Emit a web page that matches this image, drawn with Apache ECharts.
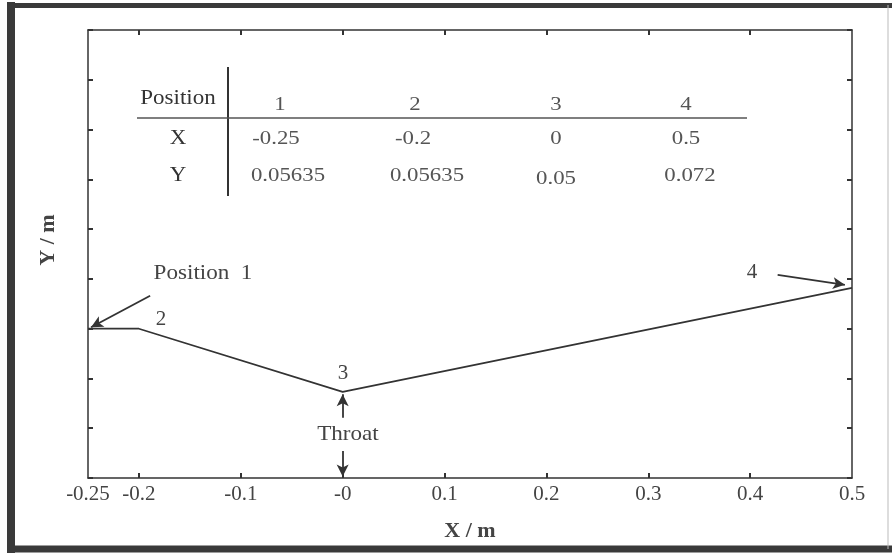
<!DOCTYPE html>
<html><head><meta charset="utf-8">
<script src="https://cdn.jsdelivr.net/npm/echarts@6/dist/echarts.min.js"></script>
<style>html,body{margin:0;padding:0;background:#fff;}#c{width:892px;height:554px;}</style>
</head><body><div id="c"></div>
<script>
// Profile points (x in m, y on an unlabeled 0..0.09 scale)
var profileX = [-0.25, -0.2, 0, 0.5];
var profileY = [0.0300, 0.0300, 0.0173, 0.0382];
// X axis tick labels
var xLabelValues = [-0.25, -0.2, -0.1, 0, 0.1, 0.2, 0.3, 0.4, 0.5];
var xLabelTexts  = ['-0.25', '-0.2', '-0.1', '-0', '0.1', '0.2', '0.3', '0.4', '0.5'];
var xTickValues  = [-0.2, -0.1, 0, 0.1, 0.2, 0.3, 0.4];
// Table content
var tableHeader = ['1', '2', '3', '4'];
var tableX = ['-0.25', '-0.2', '0', '0.5'];
var tableY = ['0.05635', '0.05635', '0.05', '0.072'];

var chart = echarts.init(document.getElementById('c'));
var serif = '"Liberation Serif","DejaVu Serif",serif';
var ink = '#333';

var data = profileX.map(function (x, i) { return [x, profileY[i]]; });

function fmtX(v) {
  for (var i = 0; i < xLabelValues.length; i++) {
    if (Math.abs(xLabelValues[i] - v) < 1e-9) return xLabelTexts[i];
  }
  return '';
}

var tickStyle = { show: true, inside: true, length: 5, lineStyle: { color: ink, width: 2 } };
var lineStyleAxis = { show: true, onZero: false, lineStyle: { color: ink, width: 1.5 } };

var option = {
  backgroundColor: '#fff',
  animation: false,
  grid: { left: 88, right: 40, top: 30, bottom: 76 },
  xAxis: [{
    type: 'value', min: -0.25, max: 0.5, position: 'bottom',
    axisLine: lineStyleAxis,
    axisTick: Object.assign({}, tickStyle, { customValues: xTickValues }),
    axisLabel: { customValues: xLabelValues, formatter: fmtX, color: '#444', fontFamily: serif, fontSize: 21, margin: 6 },
    splitLine: { show: false },
    name: 'X / m', nameLocation: 'middle', nameGap: 42,
    nameTextStyle: { color: '#444', fontFamily: serif, fontSize: 22, fontWeight: 'bold' }
  }, {
    type: 'value', min: -0.25, max: 0.5, position: 'top',
    axisLine: lineStyleAxis,
    axisTick: Object.assign({}, tickStyle, { customValues: xTickValues }),
    axisLabel: { show: false }, splitLine: { show: false }
  }],
  yAxis: [{
    type: 'value', min: 0, max: 0.09, interval: 0.01, position: 'left',
    axisLine: lineStyleAxis, axisTick: tickStyle,
    axisLabel: { show: false }, splitLine: { show: false }
  }, {
    type: 'value', min: 0, max: 0.09, interval: 0.01, position: 'right',
    axisLine: lineStyleAxis, axisTick: tickStyle,
    axisLabel: { show: false }, splitLine: { show: false }
  }],
  series: [{
    type: 'line', data: data, xAxisIndex: 0, yAxisIndex: 0,
    showSymbol: false, symbol: 'none',
    lineStyle: { color: ink, width: 1.6 },
    markLine: {
      silent: true, symbol: ['none', 'arrow'], symbolSize: [9, 12],
      lineStyle: { color: ink, width: 1.8, type: 'solid' },
      label: { show: false },
      data: [
        [{ coord: [-0.189, 0.0366] }, { coord: [-0.247, 0.0303] }],
        [{ coord: [0, 0.0121] }, { coord: [0, 0.0168] }],
        [{ coord: [0, 0.0054] }, { coord: [0, 0.0003] }],
        [{ coord: [0.427, 0.0408] }, { coord: [0.493, 0.0388] }]
      ]
    }
  }]
};
chart.setOption(option);

var g = [];
// outer frame
g.push({ type: 'line', shape: { x1: 11, y1: 2, x2: 11, y2: 553 }, style: { stroke: '#3a3a3a', lineWidth: 8 } });
g.push({ type: 'line', shape: { x1: 7, y1: 5.5, x2: 892, y2: 5.5 }, style: { stroke: '#3a3a3a', lineWidth: 5 } });
g.push({ type: 'line', shape: { x1: 7, y1: 549, x2: 892, y2: 549 }, style: { stroke: '#3a3a3a', lineWidth: 7 } });
g.push({ type: 'line', shape: { x1: 888, y1: 5, x2: 888, y2: 549 }, style: { stroke: '#bbb', lineWidth: 1 } });

function txt(x, y, s, size, color, bold, sx) {
  return { type: 'text', x: x, y: y, scaleX: sx || 1, style: {
    text: s, x: 0, y: 0, align: 'center', verticalAlign: 'middle',
    font: (bold ? 'bold ' : '') + size + 'px ' + serif, fill: color } };
}
// Y axis name
g.push({ type: 'text', x: 48, y: 240, rotation: Math.PI / 2, style: {
  text: 'Y / m', x: 0, y: 0, align: 'center', verticalAlign: 'middle',
  font: 'bold 22px ' + serif, fill: '#444' } });
// annotations
g.push(txt(203, 273, 'Position  1', 21, '#444', false, 1.1));
g.push(txt(161, 319, '2', 21, '#444', false));
g.push(txt(343, 373, '3', 21, '#444', false));
g.push(txt(348, 434, 'Throat', 21, '#444', false, 1.1));
g.push(txt(752, 272, '4', 21, '#444', false));
// table
g.push({ type: 'line', shape: { x1: 228, y1: 67, x2: 228, y2: 196 }, style: { stroke: ink, lineWidth: 2 } });
g.push({ type: 'line', shape: { x1: 137, y1: 118, x2: 747, y2: 118 }, style: { stroke: '#555', lineWidth: 1.5 } });
g.push(txt(178, 99, 'Position', 20, ink, false, 1.15));
g.push(txt(178, 139, 'X', 20, ink, false, 1.15));
g.push(txt(178, 176, 'Y', 20, ink, false, 1.15));
var colHead = [280, 415, 556, 686];
var colX = [276, 413, 556, 686];
var colY = [288, 427, 556, 690];
var rowYY = [176, 176, 179, 176];
for (var i = 0; i < 4; i++) {
  g.push(txt(colHead[i], 105, tableHeader[i], 19, '#555', false, 1.2));
  g.push(txt(colX[i], 139, tableX[i], 19, '#555', false, 1.2));
  g.push(txt(colY[i], rowYY[i], tableY[i], 19, '#555', false, 1.2));
}
chart.setOption({ graphic: g });
</script>
</body></html>
